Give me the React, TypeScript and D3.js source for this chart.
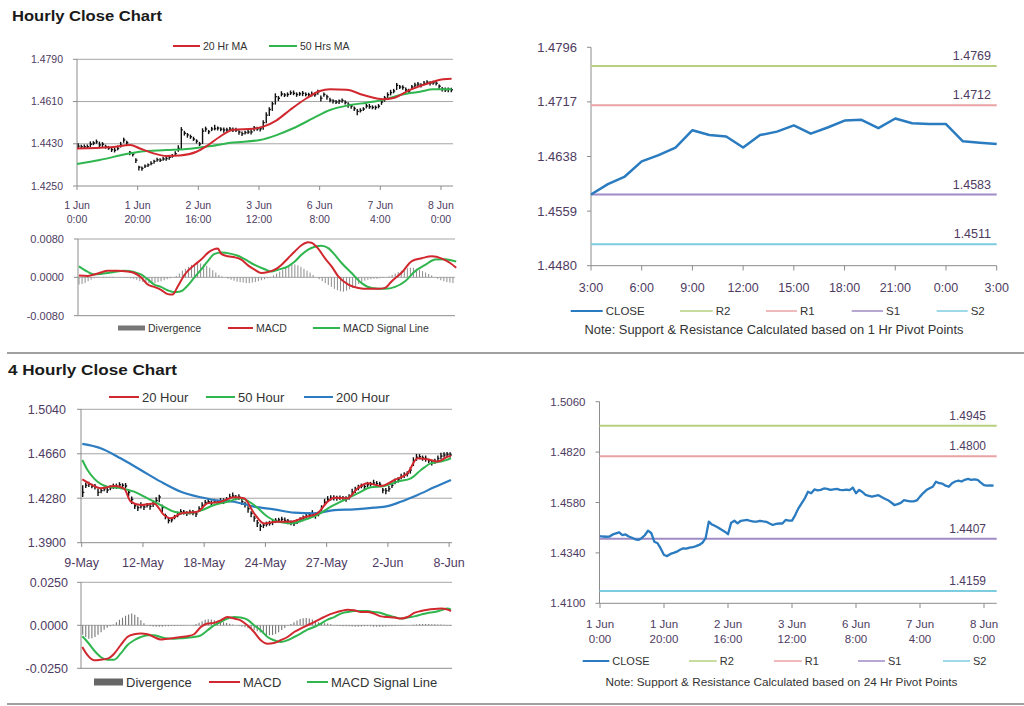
import React from 'react';
import * as d3 from 'd3';

// ---------------- DATA ----------------
// Hourly closes, 1 Jun 0:00 onwards (one per hour)
const HOURLY_CLOSE = [
  1.4420, 1.4418, 1.4417, 1.4418, 1.4428, 1.4433, 1.4438, 1.4425, 1.4428, 1.4418,
  1.4412, 1.4405, 1.4402, 1.4410, 1.4424, 1.4446, 1.4435, 1.4393, 1.4386, 1.4360,
  1.4330, 1.4325, 1.4335, 1.4340, 1.4346, 1.4355, 1.4362, 1.4360, 1.4365, 1.4367,
  1.4372, 1.4378, 1.4388, 1.4410, 1.4489, 1.4475, 1.4468, 1.4460, 1.4450, 1.4441,
  1.4429, 1.4484, 1.4493, 1.4481, 1.4493, 1.4495, 1.4497, 1.4492, 1.4489, 1.4489,
  1.4493, 1.4490, 1.4488, 1.4480, 1.4473, 1.4478, 1.4480, 1.4480, 1.4497, 1.4494,
  1.4494, 1.4520, 1.4552, 1.4576, 1.4600, 1.4631, 1.4624, 1.4642, 1.4638, 1.4640,
  1.4647, 1.4645, 1.4640, 1.4643, 1.4645, 1.4640, 1.4639, 1.4641, 1.4639, 1.4651,
  1.4624, 1.4640, 1.4630, 1.4616, 1.4612, 1.4608, 1.4612, 1.4615, 1.4606, 1.4598,
  1.4591, 1.4580, 1.4568, 1.4572, 1.4578, 1.4591, 1.4588, 1.4585, 1.4585, 1.4590,
  1.4608, 1.4625, 1.4639, 1.4648, 1.4655, 1.4679, 1.4672, 1.4670, 1.4660, 1.4655,
  1.4672, 1.4680, 1.4684, 1.4680, 1.4688, 1.4692, 1.4688, 1.4690, 1.4688, 1.4675,
  1.4663, 1.4660, 1.4662, 1.4660,
];
// High above close / low below close, in pips
const HOURLY_UP = [
  12, 8, 10, 9, 12, 8, 10, 14, 9, 8, 9, 8, 10, 12, 14, 10, 8, 6, 7, 8,
  6, 8, 7, 6, 9, 7, 8, 8, 9, 10, 8, 8, 10, 14, 12, 10, 8, 9, 10, 8,
  9, 12, 10, 8, 9, 16, 7, 8, 10, 9, 8, 9, 10, 8, 9, 8, 10, 12, 9, 8,
  9, 10, 12, 10, 9, 14, 10, 12, 8, 9, 10, 12, 9, 8, 10, 9, 8, 12, 10, 9,
  12, 8, 9, 10, 8, 9, 7, 8, 10, 9, 8, 9, 10, 9, 8, 10, 12, 9, 8, 9,
  10, 9, 10, 12, 9, 10, 8, 9, 10, 9, 8, 10, 9, 8, 10, 9, 8, 9, 10, 8,
  9, 10, 8, 9,
];
const HOURLY_DOWN = [
  10, 9, 8, 10, 12, 9, 8, 10, 12, 9, 8, 10, 9, 8, 10, 12, 14, 12, 10, 12,
  14, 10, 8, 9, 8, 10, 9, 8, 7, 9, 10, 8, 9, 14, 84, 10, 12, 9, 8, 10,
  9, 55, 12, 10, 9, 8, 10, 9, 12, 8, 9, 10, 8, 12, 10, 9, 8, 10, 14, 9,
  12, 30, 35, 28, 30, 34, 12, 10, 9, 10, 9, 8, 10, 9, 12, 8, 9, 10, 9, 12,
  14, 10, 12, 9, 10, 8, 12, 10, 9, 14, 12, 10, 16, 9, 8, 10, 9, 8, 10, 9,
  12, 16, 14, 12, 10, 20, 9, 10, 9, 12, 10, 9, 8, 10, 9, 8, 10, 9, 10, 12,
  10, 9, 12, 10,
];
const HOURLY_MA20: [number, number][] = [
  [0, 1.4410], [11, 1.4415], [17.6, 1.4425], [20.7, 1.4410], [25, 1.4390], [29.5, 1.4378],
  [33.9, 1.4380], [39.4, 1.4396], [42.7, 1.4420], [47.1, 1.4460], [51.5, 1.4490], [58.1, 1.4494],
  [61.4, 1.4503], [65.8, 1.4530], [70.2, 1.4574], [75.7, 1.4624], [80.1, 1.4655], [83.4, 1.4662],
  [88.9, 1.4660], [94.4, 1.4638], [101, 1.4620], [104.3, 1.4625], [109.8, 1.4660], [116.4, 1.4690],
  [120.8, 1.4705], [123.5, 1.4707],
];
const HOURLY_MA50: [number, number][] = [
  [0, 1.4344], [7.5, 1.4361], [16.3, 1.4386], [20.7, 1.4396], [29.5, 1.4403], [36.1, 1.4408],
  [42.7, 1.4418], [51.5, 1.4435], [60.3, 1.4446], [65.8, 1.4467], [71.3, 1.4496], [77.9, 1.4539],
  [83.4, 1.4574], [90, 1.4595], [95.5, 1.4605], [101, 1.4617], [106.5, 1.4638], [113.1, 1.4652],
  [117.5, 1.4662], [123.5, 1.4662],
];
const HOURLY_MACD: [number, number][] = [
  [0.3, 0.0004], [3.1, 0.0003], [5.3, 0.0006], [7.5, 0.0010], [9.7, 0.0014], [13, 0.0014],
  [16.3, 0.0012], [18.5, 0.0009], [20.7, 0.0], [22.9, -0.0015], [25.1, -0.0020], [27.3, -0.0026],
  [29.5, -0.0035], [31.1, -0.0036], [32.8, -0.0019], [35, 0.0005], [38.3, 0.0026], [40.5, 0.0037],
  [42.7, 0.0051], [46, 0.0060], [47.1, 0.0049], [49.3, 0.0044], [51.5, 0.0042], [53.7, 0.0037],
  [55.9, 0.0025], [58.1, 0.0016], [60.3, 0.0009], [62.5, 0.0011], [64.7, 0.0016], [66.9, 0.0026],
  [69.1, 0.0040], [71.3, 0.0054], [73.5, 0.0067], [75.7, 0.0073], [76.8, 0.0072], [79, 0.0060],
  [81.2, 0.0040], [83.4, 0.0023], [85.6, 0.0002], [88.9, -0.0015], [92.2, -0.0022], [95.5, -0.0024],
  [98.8, -0.0024], [101, -0.0022], [103.2, -0.0008], [106.5, 0.0010], [109.8, 0.0034], [113.1, 0.0040],
  [116.4, 0.0044], [119.7, 0.0039], [122.4, 0.0030], [124.4, 0.0020],
];
const HOURLY_SIGNAL: [number, number][] = [
  [0.3, 0.0023], [3.1, 0.0012], [5.3, 0.0006], [7.5, 0.0007], [10.8, 0.0010], [15.2, 0.0014],
  [18.5, 0.0011], [20.7, 0.0006], [22.9, -0.0004], [25.1, -0.0015], [27.3, -0.0020], [29.5, -0.0027],
  [31.7, -0.0031], [33.9, -0.0029], [36.1, -0.0017], [38.3, 0.0], [40.5, 0.0016], [42.7, 0.0034],
  [44.9, 0.0049], [47.1, 0.0052], [50.4, 0.0049], [52.6, 0.0045], [54.8, 0.0038], [58.1, 0.0026],
  [61.4, 0.0017], [63.6, 0.0012], [65.8, 0.0016], [69.1, 0.0023], [71.3, 0.0033], [73.5, 0.0047],
  [75.7, 0.0058], [77.9, 0.0064], [80.1, 0.0066], [82.3, 0.0061], [84.5, 0.0047], [86.7, 0.0030],
  [90, 0.0009], [93.3, -0.0012], [96.6, -0.0022], [101, -0.0024], [104.3, -0.0020], [107.6, -0.0008],
  [110.9, 0.0013], [114.2, 0.0026], [117.5, 0.0037], [120.8, 0.0038], [123, 0.0035], [124.4, 0.0033],
];
// Divergence per hour, units of 0.0001
const HOURLY_DIV = [
  -15, -14, -12, -8, -5,
  -2, -1, 0, 1, 1, 1, 1, 0, 0, 0, -1, -1, -2, -3,
  -5, -8, -10, -12, -13, -14, -12, -10, -8, -6, -4, -2,
  0, 3, 8, 14,
  18, 22, 26, 28, 30, 29, 27, 24, 20, 15,
  10, 5, 2, 0,
  -3, -5, -7, -9, -10, -11, -12, -12, -11, -10, -8, -6, -4, -2,
  1, 4, 8, 12, 16, 20, 24, 26, 27, 25, 22, 18, 14, 10,
  5, 0, -4, -8,
  -12, -16, -20, -24, -27, -29, -30, -28, -25, -22, -18, -14, -10, -7, -5,
  -4, -3, -3, -2, -1, 0, 2, 5,
  8, 11, 14, 17, 19, 20, 20, 18, 16, 13, 10, 7, 4,
  0, -3, -6, -8, -10, -11, -12,
];
const HOURLY_TICK_POS = [0, 20, 40, 60, 80, 100, 120];
const HOURLY_TICK_LABELS = [
  ['1 Jun', '0:00'], ['1 Jun', '20:00'], ['2 Jun', '16:00'], ['3 Jun', '12:00'],
  ['6 Jun', '8:00'], ['7 Jun', '4:00'], ['8 Jun', '0:00'],
];
const TL_Y_TICKS = [1.4250, 1.4430, 1.4610, 1.4790];
const TL_MACD_TICKS = [-0.0080, 0.0, 0.0080];

// Top-right: last 24 hours close + pivots
const TR_CLOSE = [
  1.4583, 1.4598, 1.4609, 1.4631, 1.4640, 1.4651, 1.4676, 1.4669, 1.4667, 1.4651,
  1.4669, 1.4674, 1.4683, 1.4671, 1.4680, 1.4690, 1.4691, 1.4679, 1.4693, 1.4686,
  1.4685, 1.4685, 1.4660, 1.4658, 1.4656,
];
const TR_HOUR_LABELS = ['3:00', '6:00', '9:00', '12:00', '15:00', '18:00', '21:00', '0:00', '3:00'];
const TR_Y_TICKS = [1.4480, 1.4559, 1.4638, 1.4717, 1.4796];
const TR_LEVELS = [1.4769, 1.4712, 1.4583, 1.4511]; // R2, R1, S1, S2

// 4-hourly bars from 9 May
const FOURH_CLOSE = [
  1.4330, 1.4390, 1.4400, 1.4385, 1.4380, 1.4330, 1.4345, 1.4360, 1.4350, 1.4370,
  1.4385, 1.4380, 1.4395, 1.4390, 1.4385, 1.4330, 1.4270, 1.4215, 1.4200, 1.4215,
  1.4205, 1.4220, 1.4210, 1.4230, 1.4260, 1.4290, 1.4200, 1.4130, 1.4090, 1.4095,
  1.4120, 1.4140, 1.4165, 1.4160, 1.4150, 1.4160, 1.4155, 1.4145, 1.4190, 1.4220,
  1.4245, 1.4250, 1.4240, 1.4255, 1.4250, 1.4260, 1.4255, 1.4270, 1.4290, 1.4300,
  1.4285, 1.4290, 1.4250, 1.4230, 1.4190, 1.4150, 1.4110, 1.4070, 1.4040, 1.4050,
  1.4060, 1.4065, 1.4075, 1.4090, 1.4095, 1.4100, 1.4090, 1.4085, 1.4070, 1.4065,
  1.4080, 1.4100, 1.4110, 1.4125, 1.4140, 1.4150, 1.4135, 1.4150, 1.4200, 1.4245,
  1.4270, 1.4280, 1.4285, 1.4280, 1.4285, 1.4280, 1.4275, 1.4290, 1.4330, 1.4350,
  1.4370, 1.4385, 1.4380, 1.4395, 1.4400, 1.4410, 1.4405, 1.4400, 1.4350, 1.4345,
  1.4360, 1.4390, 1.4420, 1.4440, 1.4465, 1.4480, 1.4490, 1.4520, 1.4600, 1.4630,
  1.4635, 1.4625, 1.4620, 1.4600, 1.4585, 1.4595, 1.4620, 1.4640, 1.4650, 1.4655,
  1.4650,
];
const FOURH_UP = [
  60, 25, 20, 18, 22, 30, 25, 20, 18, 22, 20, 25, 22, 18, 25, 20, 25, 22, 18, 30,
  22, 20, 25, 30, 28, 20, 25, 18, 22, 20, 18, 25, 22, 20, 18, 22, 25, 20, 22, 25,
  20, 25, 22, 20, 18, 22, 25, 20, 28, 30, 22, 25, 30, 20, 22, 18, 20, 25, 22, 18,
  20, 22, 25, 20, 18, 22, 25, 18, 20, 22, 20, 18, 22, 25, 20, 28, 22, 18, 20, 30,
  28, 25, 20, 22, 18, 20, 22, 25, 30, 28, 25, 20, 22, 25, 20, 28, 22, 20, 18, 22,
  25, 22, 28, 20, 25, 22, 20, 25, 30, 28, 22, 20, 25, 18, 20, 22, 25, 28, 22, 20,
  22,
];
const FOURH_DOWN = [
  40, 22, 25, 20, 25, 30, 22, 20, 25, 22, 25, 20, 18, 22, 20, 35, 40, 28, 30, 22,
  25, 20, 28, 25, 30, 45, 40, 30, 25, 22, 20, 22, 25, 20, 22, 18, 20, 25, 22, 20,
  22, 20, 25, 18, 22, 20, 25, 22, 20, 18, 22, 25, 28, 30, 35, 32, 30, 35, 40, 25,
  22, 20, 25, 22, 20, 25, 22, 28, 20, 22, 20, 25, 22, 20, 25, 22, 30, 25, 28, 25,
  22, 20, 25, 22, 20, 18, 25, 22, 30, 25, 22, 20, 25, 22, 20, 18, 25, 22, 28, 30,
  25, 22, 20, 25, 22, 28, 25, 30, 45, 30, 22, 25, 28, 22, 25, 20, 22, 25, 22, 20,
  22,
];
const FOURH_MA20: [number, number][] = [
  [0.2, 1.4441], [2.9, 1.4400], [6.2, 1.4365], [10.6, 1.4385], [13.8, 1.4365], [16, 1.4251],
  [19.3, 1.4222], [23.6, 1.4236], [26.9, 1.4137], [29.1, 1.4108], [32.4, 1.4150], [37.8, 1.4165],
  [41.1, 1.4236], [45.4, 1.4250], [49.8, 1.4288], [53, 1.4279], [56.3, 1.4151], [59.6, 1.4065],
  [63.9, 1.4080], [68.3, 1.4080], [72.7, 1.4117], [77, 1.4151], [80.3, 1.4251], [82.5, 1.4285],
  [86.8, 1.4279], [90.1, 1.4365], [93.4, 1.4407], [97.7, 1.4385], [102.1, 1.4436], [106.4, 1.4493],
  [109.7, 1.4621], [114, 1.4607], [116.2, 1.4593], [119.5, 1.4635], [120.6, 1.4640],
];
const FOURH_MA50: [number, number][] = [
  [0.2, 1.4607], [1.9, 1.4521], [4, 1.4450], [8.4, 1.4379], [12.8, 1.4365], [17.1, 1.4336],
  [21.5, 1.4279], [25.8, 1.4222], [30.2, 1.4165], [34.5, 1.4151], [38.9, 1.4174], [43.2, 1.4222],
  [47.6, 1.4250], [51.9, 1.4279], [56.3, 1.4222], [60.7, 1.4122], [63.9, 1.4080], [68.3, 1.4065],
  [72.6, 1.4094], [77, 1.4137], [81.4, 1.4208], [85.7, 1.4265], [90.1, 1.4322], [94.4, 1.4373],
  [98.8, 1.4385], [103.2, 1.4422], [107.5, 1.4450], [110.8, 1.4521], [114, 1.4578], [117.3, 1.4593],
  [120.6, 1.4621],
];
const FOURH_MA200: [number, number][] = [
  [0.2, 1.4744], [6.2, 1.4707], [12.7, 1.4621], [19.3, 1.4521], [25.8, 1.4422], [32.4, 1.4336],
  [38.9, 1.4288], [43.2, 1.4265], [49.8, 1.4250], [56.3, 1.4208], [62.8, 1.4185], [69.4, 1.4157],
  [75.9, 1.4151], [82.5, 1.4179], [89, 1.4185], [95.5, 1.4199], [99.9, 1.4213], [104.2, 1.4250],
  [109.7, 1.4308], [115.1, 1.4373], [120.6, 1.4436],
];
const FOURH_MACD: [number, number][] = [
  [0.2, -0.0126], [1.9, -0.0174], [4, -0.0203], [6.2, -0.0200], [8.4, -0.0194], [10.6, -0.0165],
  [12.7, -0.0116], [14.9, -0.0068], [17.1, -0.0052], [19.3, -0.0048], [21.5, -0.0052], [23.6, -0.0068],
  [25.8, -0.0083], [28, -0.0078], [30.2, -0.0074], [32.4, -0.0068], [34.5, -0.0064], [36.7, -0.0052],
  [38.9, -0.0010], [41.1, 0.0010], [43.2, 0.0014], [45.4, 0.0029], [47.6, 0.0048], [49.8, 0.0039],
  [51.9, 0.0029], [54.1, 0.0], [56.3, -0.0039], [58.5, -0.0087], [60.7, -0.0107], [62.8, -0.0103],
  [65, -0.0087], [67.2, -0.0068], [69.4, -0.0039], [71.5, -0.0019], [73.7, 0.0], [75.9, 0.0019],
  [78.1, 0.0039], [80.3, 0.0058], [82.5, 0.0072], [84.6, 0.0083], [86.8, 0.0091], [89, 0.0087],
  [91.2, 0.0077], [93.4, 0.0077], [95.5, 0.0068], [97.7, 0.0052], [99.9, 0.0048], [102.1, 0.0045],
  [104.3, 0.0039], [106.4, 0.0048], [108.6, 0.0072], [110.8, 0.0083], [113, 0.0091], [115.1, 0.0095],
  [117.3, 0.0097], [119.5, 0.0091], [120.6, 0.0083],
];
const FOURH_SIGNAL: [number, number][] = [
  [0.2, -0.0064], [1.9, -0.0097], [4, -0.0145], [6.2, -0.0184], [8.4, -0.0200], [10.6, -0.0200],
  [12.7, -0.0165], [14.9, -0.0116], [17.1, -0.0087], [19.3, -0.0068], [21.5, -0.0058], [23.6, -0.0058],
  [25.8, -0.0068], [28, -0.0076], [30.2, -0.0078], [32.4, -0.0076], [34.5, -0.0072], [36.7, -0.0068],
  [38.9, -0.0058], [41.1, -0.0029], [43.2, 0.0], [45.4, 0.0019], [47.6, 0.0039], [49.8, 0.0048],
  [51.9, 0.0045], [54.1, 0.0033], [56.3, 0.0], [58.5, -0.0029], [60.7, -0.0068], [62.8, -0.0087],
  [65, -0.0097], [67.2, -0.0087], [69.4, -0.0068], [71.5, -0.0048], [73.7, -0.0025], [75.9, -0.0010],
  [78.1, 0.0010], [80.3, 0.0033], [82.5, 0.0048], [84.6, 0.0068], [86.8, 0.0077], [89, 0.0083],
  [91.2, 0.0083], [93.4, 0.0083], [95.5, 0.0077], [97.7, 0.0072], [99.9, 0.0058], [102.1, 0.0048],
  [104.3, 0.0039], [106.4, 0.0045], [108.6, 0.0052], [110.8, 0.0062], [113, 0.0072], [115.1, 0.0077],
  [117.3, 0.0087], [119.5, 0.0097], [120.6, 0.0091],
];
const FOURH_DIV = [
  -55, -68, -78, -76, -68, -55, -40, -26, -14, -5,
  5, 18, 32, 44, 55, 63, 68, 62, 48, 30, 12,
  2, -4, -7, -8, -9, -8, -6, -5, -4, -4, -3, -3, -2, -1, 0, 2,
  8, 15, 24, 32, 35, 34, 30, 26, 22, 18, 14, 9, 5, 1,
  -3, -7, -12, -17, -22, -28, -35, -42, -50, -56, -58, -56, -50, -40, -28, -15,
  -3, 8, 18, 28, 36, 41, 43, 40, 34, 26, 18, 14,
  12, 10, 6, 2,
  -2, -4, -5, -6, -6, -7, -8, -8, -7, -6, -5, -6, -8, -9, -9, -8, -7, -6, -5, -4, -3, -2, -1, 0, 1,
  3, 5, 7, 8, 8, 7, 6, 6, 5, 4, 3,
  -2, -3,
];
const FOURH_TICK_POS = [0, 20, 40, 60, 80, 100, 120];
const FOURH_TICK_LABELS = ['9-May', '12-May', '18-May', '24-May', '27-May', '2-Jun', '8-Jun'];
const BL_Y_TICKS = [1.3900, 1.4280, 1.4660, 1.5040];
const BL_MACD_TICKS = [-0.0250, 0.0, 0.0250];

const BR_Y_TICKS = [1.4100, 1.4340, 1.4580, 1.4820, 1.5060];
const BR_LEVELS = [1.4945, 1.4800, 1.4407, 1.4159]; // R2, R1, S1, S2

// ---------------- STYLE ----------------
const FONT = '"Liberation Sans", Arial, Helvetica, sans-serif';
const TICK_COLOR = '#4e3b62';
const AXIS = '#8c8c8c';
const GRID = '#a6a6a6';
const RED = '#d0282e';
const GREEN = '#2fb64e';
const BLUE = '#2c7cc1';
const CLOSE_BLUE = '#2a7bbf';
const LEVEL_COLORS = ['#b6d07e', '#eaa3a4', '#9f8bc5', '#7ccde0'];
const LEVEL_NAMES = ['R2', 'R1', 'S1', 'S2'];

const fmt4 = (v: number) => v.toFixed(4);

function lineOf(x: any, y: any, pts: [number, number][], curve = d3.curveMonotoneX) {
  return d3.line<[number, number]>().x((d) => x(d[0])).y((d) => y(d[1])).curve(curve)(pts) || '';
}

function YAxis({ scale, ticks, x, fs, gap }: any) {
  const top = scale(ticks[ticks.length - 1]);
  const bot = scale(ticks[0]);
  return (
    <g>
      <line x1={x} x2={x} y1={top} y2={bot} stroke={AXIS} strokeWidth={1} />
      {ticks.map((t: number) => (
        <g key={t}>
          <line x1={x - 4} x2={x} y1={scale(t)} y2={scale(t)} stroke={AXIS} />
          <text x={x - gap} y={scale(t)} dy="0.35em" textAnchor="end" fontSize={fs} fill={TICK_COLOR}>
            {fmt4(t)}
          </text>
        </g>
      ))}
    </g>
  );
}

function Grid({ scale, ticks, x0, x1 }: any) {
  return (
    <g>
      {ticks.slice(1).map((t: number) => (
        <line key={t} x1={x0} x2={x1} y1={scale(t)} y2={scale(t)} stroke={GRID} strokeWidth={1} />
      ))}
    </g>
  );
}

function Bars({ x, y, close, up, down, off, w }: any) {
  return (
    <g stroke="#111" strokeWidth={w}>
      {close.map((c: number, i: number) => {
        const cx = x(i) + off;
        return (
          <g key={i}>
            <line x1={cx} x2={cx} y1={y(c + up[i] / 10000)} y2={y(c - down[i] / 10000)} />
            <line x1={cx} x2={cx + 1.6} y1={y(c)} y2={y(c)} />
          </g>
        );
      })}
    </g>
  );
}

function DivBars({ x, y, vals, off, color, w }: any) {
  return (
    <g stroke={color} strokeWidth={w}>
      {vals.map((v: number, i: number) => (
        <line key={i} x1={x(i) + off} x2={x(i) + off} y1={y(0)} y2={y(v / 10000)} />
      ))}
    </g>
  );
}

function LegendLine({ x1, x2, y, color, label, fs, w = 2 }: any) {
  return (
    <g>
      <line x1={x1} x2={x2} y1={y} y2={y} stroke={color} strokeWidth={w} />
      <text x={x2 + 3} y={y} dy="0.35em" fontSize={fs} fill="#333">
        {label}
      </text>
    </g>
  );
}

export default function App() {
  // ---- Top-left hourly price ----
  const tlX = d3.scaleLinear().domain([0, 124]).range([77, 453.1]);
  const tlY = d3.scaleLinear().domain([1.425, 1.479]).range([186, 59.3]);
  const tlMY = d3.scaleLinear().domain([-0.008, 0.008]).range([315.7, 239]);
  const tlMX = d3.scaleLinear().domain([0, 124]).range([78, 455]);

  // ---- Top-right ----
  const trX = d3.scaleLinear().domain([0, 24]).range([591, 996.7]);
  const trY = d3.scaleLinear().domain([1.448, 1.4796]).range([265.7, 47.3]);

  // ---- Bottom-left 4H ----
  const blX = d3.scaleLinear().domain([0, 121]).range([81.7, 452.2]);
  const blY = d3.scaleLinear().domain([1.39, 1.504]).range([542.7, 409.3]);
  const blMY = d3.scaleLinear().domain([-0.025, 0.025]).range([668.3, 582.3]);

  // ---- Bottom-right ----
  const brX = d3.scaleLinear().domain([0, 124]).range([600, 996.8]);
  const brY = d3.scaleLinear().domain([1.41, 1.506]).range([603.3, 401.7]);

  const trPts: [number, number][] = TR_CLOSE.map((v, i) => [i, v]);
  const brPts: [number, number][] = HOURLY_CLOSE.map((v, i) => [i, v]);

  return (
    <div style={{ position: 'absolute', left: 0, top: 0 }}>
      <svg width={1024} height={706} style={{ display: 'block', background: '#fff' }} fontFamily={FONT}>
        {/* Titles and separators */}
        <text x={12} y={21} fontSize={15} fontWeight="bold" fill="#1a1a1a" textLength={150} lengthAdjust="spacingAndGlyphs">
          Hourly Close Chart
        </text>
        <line x1={7} x2={1024} y1={353} y2={353} stroke="#a0a0a0" strokeWidth={2} />
        <text x={8} y={375} fontSize={15} fontWeight="bold" fill="#1a1a1a" textLength={169} lengthAdjust="spacingAndGlyphs">
          4 Hourly Close Chart
        </text>
        <line x1={7} x2={1024} y1={704} y2={704} stroke="#a0a0a0" strokeWidth={2} />

        {/* ===== Top-left price ===== */}
        <LegendLine x1={173} x2={200} y={46} color={RED} label="20 Hr MA" fs={10.5} />
        <LegendLine x1={269} x2={297} y={46} color={GREEN} label="50 Hrs MA" fs={10.5} />
        <Grid scale={tlY} ticks={TL_Y_TICKS} x0={77} x1={453} />
        <YAxis scale={tlY} ticks={TL_Y_TICKS} x={77} fs={10.5} gap={14} />
        <line x1={77} x2={453} y1={186} y2={186} stroke={AXIS} />
        {HOURLY_TICK_POS.map((p, k) => (
          <g key={p}>
            <line x1={tlX(p)} x2={tlX(p)} y1={186} y2={190} stroke={AXIS} />
            <text x={tlX(p)} y={209} textAnchor="middle" fontSize={10.5} fill={TICK_COLOR}>
              {HOURLY_TICK_LABELS[k][0]}
            </text>
            <text x={tlX(p)} y={223} textAnchor="middle" fontSize={10.5} fill={TICK_COLOR}>
              {HOURLY_TICK_LABELS[k][1]}
            </text>
          </g>
        ))}
        <Bars x={tlX} y={tlY} close={HOURLY_CLOSE} up={HOURLY_UP} down={HOURLY_DOWN} off={1.2} w={1.4} />
        <path d={lineOf(tlX, tlY, HOURLY_MA50)} fill="none" stroke={GREEN} strokeWidth={2} />
        <path d={lineOf(tlX, tlY, HOURLY_MA20)} fill="none" stroke={RED} strokeWidth={2} />

        {/* ===== Top-left MACD ===== */}
        <Grid scale={tlMY} ticks={TL_MACD_TICKS} x0={78} x1={455} />
        <YAxis scale={tlMY} ticks={TL_MACD_TICKS} x={78} fs={11} gap={14} />
        <line x1={78} x2={455} y1={315.7} y2={315.7} stroke={AXIS} />
        <DivBars x={tlMX} y={tlMY} vals={HOURLY_DIV} off={1} color="#8d8d8d" w={1} />
        <path d={lineOf(tlMX, tlMY, HOURLY_SIGNAL)} fill="none" stroke={GREEN} strokeWidth={2} />
        <path d={lineOf(tlMX, tlMY, HOURLY_MACD)} fill="none" stroke={RED} strokeWidth={2} />
        <rect x={118} y={325.5} width={27} height={5} fill="#777" />
        <text x={148} y={328} dy="0.35em" fontSize={10.5} fill="#333">Divergence</text>
        <LegendLine x1={228} x2={253} y={328} color={RED} label="MACD" fs={10.5} />
        <LegendLine x1={313} x2={340} y={328} color={GREEN} label="MACD Signal Line" fs={10.5} />

        {/* ===== Top-right ===== */}
        <YAxis scale={trY} ticks={TR_Y_TICKS} x={591} fs={13} gap={14} />
        <line x1={591} x2={996.7} y1={265.7} y2={265.7} stroke={AXIS} />
        {TR_HOUR_LABELS.map((lab, k) => (
          <g key={k}>
            <line x1={trX(k * 3)} x2={trX(k * 3)} y1={265.7} y2={270.5} stroke={AXIS} />
            <text x={trX(k * 3)} y={292} textAnchor="middle" fontSize={12.5} fill={TICK_COLOR}>
              {lab}
            </text>
          </g>
        ))}
        {TR_LEVELS.map((v, k) => (
          <g key={k}>
            <line x1={591} x2={996.7} y1={trY(v)} y2={trY(v)} stroke={LEVEL_COLORS[k]} strokeWidth={2} />
            <text x={991} y={trY(v) - 6} textAnchor="end" fontSize={12.5} fill={TICK_COLOR}>
              {fmt4(v)}
            </text>
          </g>
        ))}
        <path d={lineOf(trX, trY, trPts, d3.curveLinear)} fill="none" stroke={CLOSE_BLUE} strokeWidth={2.5} strokeLinejoin="round" />
        <LegendLine x1={570.7} x2={602.7} y={311} color={CLOSE_BLUE} label="CLOSE" fs={11.5} />
        {LEVEL_NAMES.map((n, k) => (
          <LegendLine key={n} x1={[680, 766, 851.7, 936.7][k]} x2={[712.7, 797, 883, 967.7][k]} y={311} color={LEVEL_COLORS[k]} label={n} fs={11.5} w={1.5} />
        ))}
        <text x={774} y={334} textAnchor="middle" fontSize={12} fill="#333" textLength={379} lengthAdjust="spacingAndGlyphs">
          Note: Support &amp; Resistance Calculated based on 1 Hr Pivot Points
        </text>

        {/* ===== Bottom-left 4H price ===== */}
        <LegendLine x1={109} x2={139} y={397} color={RED} label="20 Hour" fs={13} />
        <LegendLine x1={206} x2={235} y={397} color={GREEN} label="50 Hour" fs={13} />
        <LegendLine x1={304} x2={333} y={397} color={BLUE} label="200 Hour" fs={13} />
        <Grid scale={blY} ticks={BL_Y_TICKS} x0={81} x1={452} />
        <YAxis scale={blY} ticks={BL_Y_TICKS} x={81} fs={12.5} gap={15} />
        <line x1={81} x2={452} y1={542.7} y2={542.7} stroke={AXIS} />
        {FOURH_TICK_POS.map((p, k) => (
          <g key={p}>
            <line x1={blX(p)} x2={blX(p)} y1={542.7} y2={547} stroke={AXIS} />
            <text x={blX(p)} y={567} textAnchor="middle" fontSize={12.5} fill={TICK_COLOR}>
              {FOURH_TICK_LABELS[k]}
            </text>
          </g>
        ))}
        <Bars x={blX} y={blY} close={FOURH_CLOSE} up={FOURH_UP} down={FOURH_DOWN} off={1} w={1.4} />
        <path d={lineOf(blX, blY, FOURH_MA200)} fill="none" stroke={BLUE} strokeWidth={2.2} />
        <path d={lineOf(blX, blY, FOURH_MA50)} fill="none" stroke={GREEN} strokeWidth={2} />
        <path d={lineOf(blX, blY, FOURH_MA20)} fill="none" stroke={RED} strokeWidth={2} />

        {/* ===== Bottom-left MACD ===== */}
        <Grid scale={blMY} ticks={BL_MACD_TICKS} x0={81} x1={452} />
        <YAxis scale={blMY} ticks={BL_MACD_TICKS} x={81} fs={12.5} gap={13} />
        <line x1={81} x2={452} y1={668.3} y2={668.3} stroke={AXIS} />
        <DivBars x={blX} y={blMY} vals={FOURH_DIV} off={1} color="#777" w={1.1} />
        <path d={lineOf(blX, blMY, FOURH_SIGNAL)} fill="none" stroke={GREEN} strokeWidth={2} />
        <path d={lineOf(blX, blMY, FOURH_MACD)} fill="none" stroke={RED} strokeWidth={2} />
        <rect x={94} y={678.5} width={29} height={7} fill="#666" />
        <text x={126} y={682} dy="0.35em" fontSize={13} fill="#333">Divergence</text>
        <LegendLine x1={209} x2={240} y={682} color={RED} label="MACD" fs={13} />
        <LegendLine x1={307} x2={328} y={682} color={GREEN} label="MACD Signal Line" fs={13} />

        {/* ===== Bottom-right ===== */}
        <YAxis scale={brY} ticks={BR_Y_TICKS} x={599.5} fs={11.5} gap={14} />
        <line x1={599.5} x2={996.7} y1={603.3} y2={603.3} stroke={AXIS} />
        {HOURLY_TICK_POS.map((p, k) => (
          <g key={p}>
            <line x1={brX(p)} x2={brX(p)} y1={603.3} y2={608} stroke={AXIS} />
            <text x={brX(p)} y={628} textAnchor="middle" fontSize={11.5} fill={TICK_COLOR}>
              {HOURLY_TICK_LABELS[k][0]}
            </text>
            <text x={brX(p)} y={642.5} textAnchor="middle" fontSize={11.5} fill={TICK_COLOR}>
              {HOURLY_TICK_LABELS[k][1]}
            </text>
          </g>
        ))}
        {BR_LEVELS.map((v, k) => (
          <g key={k}>
            <line x1={599.5} x2={996.7} y1={brY(v)} y2={brY(v)} stroke={LEVEL_COLORS[k]} strokeWidth={2} />
            <text x={986} y={brY(v) - 6} textAnchor="end" fontSize={12} fill={TICK_COLOR}>
              {fmt4(v)}
            </text>
          </g>
        ))}
        <path d={lineOf(brX, brY, brPts, d3.curveLinear)} fill="none" stroke={CLOSE_BLUE} strokeWidth={2.3} strokeLinejoin="round" />
        <LegendLine x1={582.7} x2={609.3} y={661} color={CLOSE_BLUE} label="CLOSE" fs={11} />
        {LEVEL_NAMES.map((n, k) => (
          <LegendLine key={n} x1={[689, 774, 858, 943][k]} x2={[716.7, 801.7, 885, 970][k]} y={661} color={LEVEL_COLORS[k]} label={n} fs={11} w={1.5} />
        ))}
        <text x={781.5} y={685.5} textAnchor="middle" fontSize={11.5} fill="#333" textLength={352} lengthAdjust="spacingAndGlyphs">
          Note: Support &amp; Resistance Calculated based on 24 Hr Pivot Points
        </text>
      </svg>
    </div>
  );
}
